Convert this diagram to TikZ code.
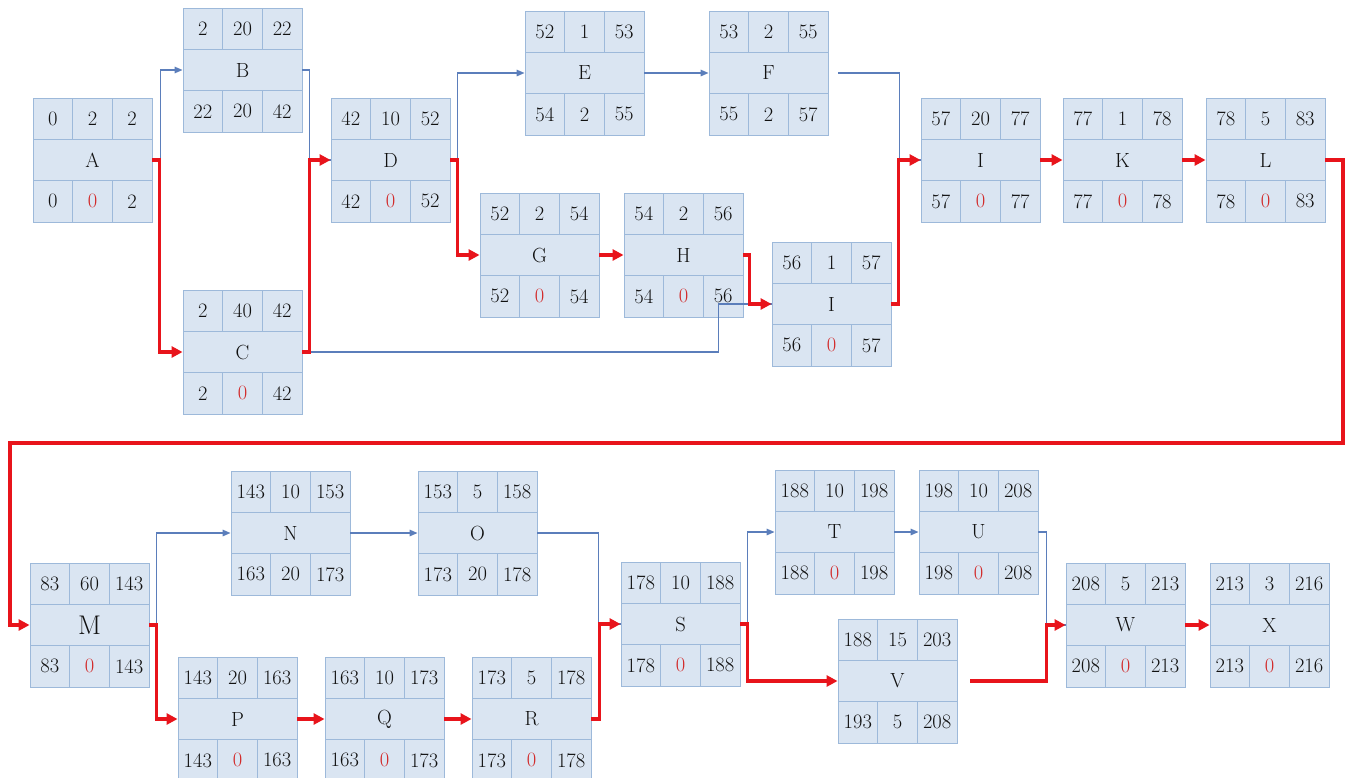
\documentclass[tikz,border=0pt]{standalone}
\usetikzlibrary{arrows.meta}
\definecolor{cellfill}{HTML}{DAE5F2}
\definecolor{celldraw}{HTML}{9DB9DA}
\definecolor{flowblue}{HTML}{5B7EBB}
\definecolor{critred}{HTML}{E8141B}
\definecolor{zred}{HTML}{D22A2A}
\definecolor{txt}{HTML}{111111}
\newcommand{\zr}{\textcolor{zred}{0}}
\tikzset{
  cell/.style={draw=celldraw, fill=cellfill, line width=0.9pt, inner sep=0pt,
    minimum width=39.67pt, minimum height=41.33pt, text=txt,
    font=\fontsize{20.5}{20.5}\selectfont},
  midcell/.style={cell, minimum width=119pt},
  crit/.style={draw=critred, line width=3.2pt, -{Triangle[length=11pt,width=11pt]}},
  critline/.style={draw=critred, line width=3.2pt},
  flow/.style={draw=flowblue, line width=1.4pt, -{Triangle[length=8pt,width=6.5pt]}},
  flowline/.style={draw=flowblue, line width=1.4pt},
}
\newcommand{\abox}[6][]{%
  \begin{scope}[shift={(#3)}]
    \node[midcell,#1] (#2) at (59.5,62) {#5};
    \foreach \v [count=\i] in {#4} \node[cell] at ({(\i-0.5)*39.667},20.667) {\v};
    \foreach \v [count=\i] in {#6} \node[cell] at ({(\i-0.5)*39.667},103.333) {\v};
  \end{scope}}
\begin{document}
\begin{tikzpicture}[x=1pt,y=-1pt]
\useasboundingbox (0,0) rectangle (1346,777);
% boxes
\abox{A}{33,98}{0,2,2}{A}{0,\zr,2}
\abox{B}{183,8}{2,20,22}{B}{22,20,42}
\abox{C}{183,290}{2,40,42}{C}{2,\zr,42}
\abox{D}{331,98}{42,10,52}{D}{42,\zr,52}
\abox{E}{525,11}{52,1,53}{E}{54,2,55}
\abox{F}{709,11}{53,2,55}{F}{55,2,57}
\abox{G}{480,193}{52,2,54}{G}{52,\zr,54}
\abox{H}{624,193}{54,2,56}{H}{54,\zr,56}
\abox{Ia}{772,242}{56,1,57}{I}{56,\zr,57}
\abox{Ib}{921,98}{57,20,77}{I}{57,\zr,77}
\abox{K}{1063,98}{77,1,78}{K}{77,\zr,78}
\abox{L}{1206,98}{78,5,83}{L}{78,\zr,83}
\abox[font=\fontsize{27}{27}\selectfont]{M}{30,563}{83,60,143}{M}{83,\zr,143}
\abox{N}{231,471}{143,10,153}{N}{163,20,173}
\abox{O}{418,471}{153,5,158}{O}{173,20,178}
\abox{P}{178,657}{143,20,163}{P}{143,\zr,163}
\abox{Q}{325,657}{163,10,173}{Q}{163,\zr,173}
\abox{R}{472,657}{173,5,178}{R}{173,\zr,178}
\abox{S}{621,562}{178,10,188}{S}{178,\zr,188}
\abox{T}{775,470}{188,10,198}{T}{188,\zr,198}
\abox{U}{919,470}{198,10,208}{U}{198,\zr,208}
\abox{V}{838,619}{188,15,203}{V}{193,5,208}
\abox{W}{1066,563}{208,5,213}{W}{208,\zr,213}
\abox{X}{1210,563}{213,3,216}{X}{213,\zr,216}
% non-critical links (drawn first)
\draw[flow] (A.east) -- ++(8,0) |- (B.west);
\draw[flowline] (B.east) -- ++(7,0) |- (D.west);
\draw[flow] (D.east) -- ++(7,0) |- (E.west);
\draw[flow] (E.east) -- (F.west);
\draw[flowline, shorten <=10pt] (F.east) -- ++(71,0) |- (Ib.west);
\draw[flowline] (C.east) -- ++(416,0) |- (Ia.west);
\draw[flow] (M.east) -- ++(7,0) |- (N.west);
\draw[flow] (N.east) -- (O.west);
\draw[flowline] (O.east) -- ++(61,0) |- (S.west);
\draw[flow] (S.east) -- ++(7,0) |- (T.west);
\draw[flow] (T.east) -- (U.west);
\draw[flowline] (U.east) -- ++(8,0) |- (W.west);
% critical path
\coordinate (lm1) at (1343,443);
\coordinate (lm2) at (10,443);
\draw[crit] (A.east) -- ++(7,0) |- (C.west);
\draw[crit] (C.east) -- ++(7,0) |- (D.west);
\draw[crit] (D.east) -- ++(7,0) |- (G.west);
\draw[crit] (G.east) -- (H.west);
\draw[crit] (H.east) -- ++(6,0) |- (Ia.west);
\draw[crit] (Ia.east) -- ++(7,0) |- (Ib.west);
\draw[crit] (Ib.east) -- (K.west);
\draw[crit] (K.east) -- (L.west);
\draw[crit] (L.east) -| (lm1) -- (lm2) |- (M.west);
\draw[crit] (M.east) -- ++(7,0) |- (P.west);
\draw[crit] (P.east) -- (Q.west);
\draw[crit] (Q.east) -- (R.west);
\draw[crit] (R.east) -- ++(8,0) |- (S.west);
\draw[crit] (S.east) -- ++(7,0) |- (V.west);
\draw[crit, shorten <=13pt] (V.east) -- ++(89,0) |- (W.west);
\draw[crit] (W.east) -- (X.west);
\end{tikzpicture}
\end{document}
